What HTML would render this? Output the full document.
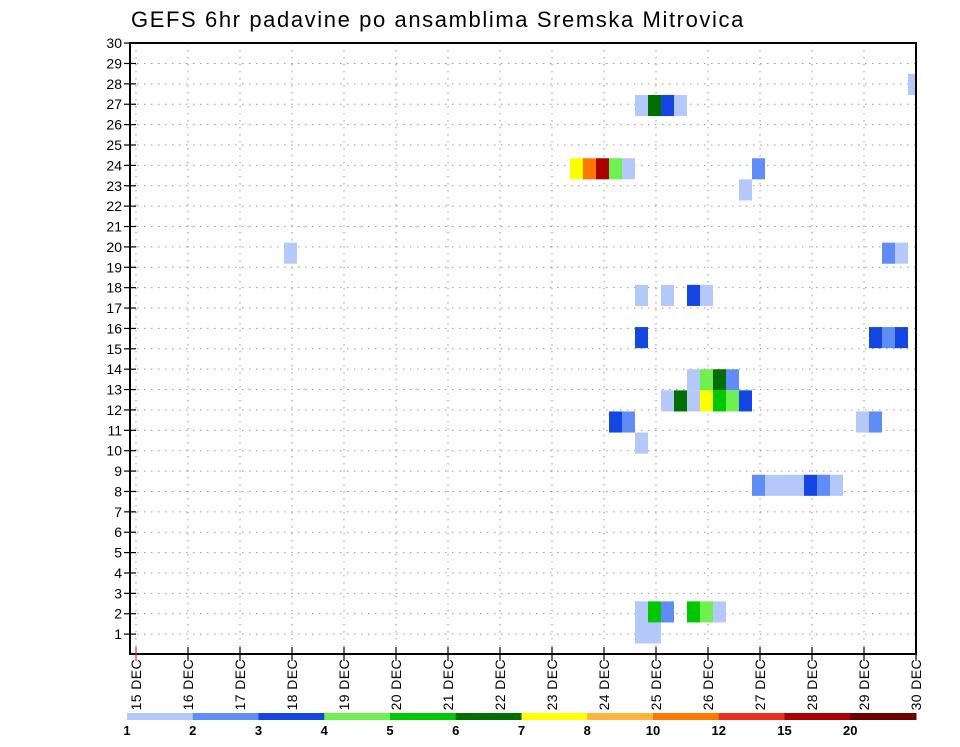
<!DOCTYPE html>
<html><head><meta charset="utf-8">
<style>
html,body{margin:0;padding:0;background:#fff;}
svg text{font-family:"Liberation Sans",sans-serif;}
</style></head>
<body>
<svg id="chart" width="960" height="742" viewBox="0 0 960 742" xmlns="http://www.w3.org/2000/svg">
<text x="131" y="27" font-size="22" letter-spacing="1.6" fill="#000">GEFS 6hr padavine po ansamblima Sremska Mitrovica</text>
<g id="grid"></g>
<g id="cells"></g>
<rect x="130" y="43" width="786" height="611" fill="none" stroke="#000" stroke-width="2"/>
<g id="axes"></g>
<g id="cbar"></g>
</svg>
<script>
const dayLabels = ["15 DEC","16 DEC","17 DEC","18 DEC","19 DEC","20 DEC","21 DEC","22 DEC","23 DEC","24 DEC","25 DEC","26 DEC","27 DEC","28 DEC","29 DEC","30 DEC"];
const memberTicks = [1,2,3,4,5,6,7,8,9,10,11,12,13,14,15,16,17,18,19,20,21,22,23,24,25,26,27,28,29,30];
const legendLabels = ["1","2","3","4","5","6","7","8","10","12","15","20"];
const classColors = ["#b4c8fa","#5f8cf5","#1446e1","#6ef050","#00c800","#006e00","#ffff00","#ffb43c","#ff7800","#e6321e","#aa0000","#6e0000"];
// cells: member, 6-hr step index from 15 DEC 00Z, precipitation class (1..12)
const cellMembers = [27,26,26,26,26,23,23,23,23,23,23,22,19,19,19,17,17,17,17,15,15,15,15,13,13,13,13,12,12,12,12,12,12,12,11,11,11,11,10,8,8,8,8,8,8,8,2,2,2,2,2,2,1,1];
const cellSteps   = [60,39,40,41,42,34,35,36,37,38,48,47,12,58,59,39,41,43,44,39,57,58,59,43,44,45,46,41,42,43,44,45,46,47,37,38,56,57,39,48,49,50,51,52,53,54,39,40,41,43,44,45,39,40];
const cellClasses = [1,1,6,3,1,7,9,11,4,1,2,1,1,2,1,1,1,3,1,3,3,2,3,1,4,6,2,1,6,1,7,5,4,3,3,2,1,2,1,2,1,1,1,3,2,1,1,5,2,5,4,1,1,1];

const NS="http://www.w3.org/2000/svg";
const X0=136, DAY=52, PL=130, PR=916, PT=43, PB=654;
function xDay(d){return X0+d*DAY;}
function xStep(t){return X0-1.5+t*DAY/4;}
function yMember(m){return 654.5-m*20.38;}
function yCell(m){return 633-(m-1)*21.1;}
function mk(tag,attrs,parent){const e=document.createElementNS(NS,tag);for(const k in attrs)e.setAttribute(k,attrs[k]);parent.appendChild(e);return e;}

const grid=document.getElementById('grid');
memberTicks.forEach(m=>{
  const l=mk('line',{x1:PL,x2:PR,y1:yMember(m),y2:yMember(m),stroke:'#999','stroke-width':1,'stroke-dasharray':'1.5,5.5'},grid);
  
  
});
dayLabels.forEach((d,i)=>{
  const l=mk('line',{x1:xDay(i),x2:xDay(i),y1:PT,y2:PB,stroke:'#999','stroke-width':1,'stroke-dasharray':'1.5,5.5'},grid);
  
  
});

const cells=document.getElementById('cells');
cellMembers.forEach((m,i)=>{
  const cx=xStep(cellSteps[i]);
  let x1=cx-6.5, x2=cx+6.5;
  x1=Math.max(x1,PL); x2=Math.min(x2,PR);
  const r=mk('rect',{x:x1,y:yCell(m)-10.55,width:x2-x1,height:21.1,fill:classColors[cellClasses[i]-1]},cells);
  
  
});

const axes=document.getElementById('axes');
memberTicks.forEach(m=>{
  const y=yMember(m);
  const t=mk('line',{x1:PL-6,x2:PL+6,y1:y,y2:y,stroke:'#000','stroke-width':1.2},axes);
  
  
  const tx=mk('text',{x:PL-8,y:y+5,'font-size':14,'text-anchor':'end',fill:'#000'},axes);
  tx.textContent=m;
  
  
});
dayLabels.forEach((d,i)=>{
  const x=xDay(i);
  const t=mk('line',{x1:x,x2:x,y1:PB-7,y2:PB+7,stroke:i===0?'#c33':'#000','stroke-width':1.2},axes);
  
  
  const tx=mk('text',{x:0,y:0,'font-size':14,'letter-spacing':'0.4','text-anchor':'end',fill:'#000',transform:`translate(${x+5},${PB+5}) rotate(-90)`},axes);
  tx.textContent=d;
  
  
});

const cbar=document.getElementById('cbar');
const CB0=127, CBW=(916-127)/classColors.length;
classColors.forEach((c,i)=>{
  const r=mk('rect',{x:CB0+i*CBW,y:713,width:CBW+0.5,height:7,fill:c},cbar);
  
  
});
legendLabels.forEach((l,i)=>{
  const tx=mk('text',{x:CB0+i*CBW,y:735,'font-size':13,'font-weight':'bold','text-anchor':'middle',fill:'#000'},cbar);
  tx.textContent=l;
  
  
});
</script>
</body></html>
